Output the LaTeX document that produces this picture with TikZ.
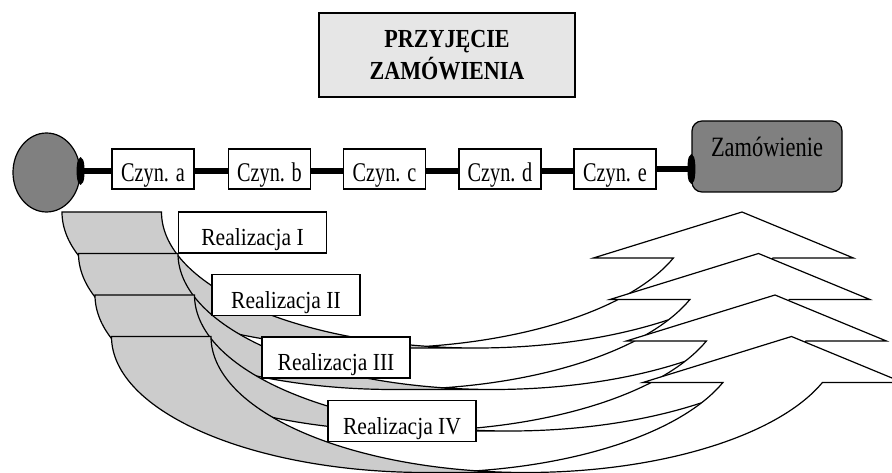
\documentclass[tikz,border=0pt]{standalone}
\usepackage{fontspec}
\setmainfont{Liberation Serif}
\usepackage{graphicx}
\usetikzlibrary{arrows.meta,shapes.geometric}
\definecolor{backgray}{HTML}{CCCCCC}
\definecolor{midgray}{HTML}{808080}
\definecolor{titlegray}{HTML}{E6E6E6}
\newcommand\hsq[2]{\scalebox{#1}[1]{#2}}
\newcommand\crvarrow[2]{%
 \begin{scope}[shift={(#1,#2)}]
  \fill[white] (680,0) -- (791.4,46) -- (710.9,46)
     arc[start angle=19.77,end angle=99.09,x radius=315,y radius=136]
     arc[start angle=80.91,end angle=19.77,x radius=315,y radius=136]
     -- (531.4,46) -- cycle;
  \fill[backgray] (315,136) arc[start angle=90,end angle=180,x radius=315,y radius=136]
     -- (99.5,0) arc[start angle=180,end angle=90,x radius=315,y radius=136] -- cycle;
  \draw[arrline] (364.75,134.3) arc[start angle=80.91,end angle=19.77,x radius=315,y radius=136]
     -- (531.4,46) -- (680,0) -- (791.4,46) -- (710.9,46)
     arc[start angle=19.77,end angle=90,x radius=315,y radius=136]
     -- (315,136) arc[start angle=90,end angle=180,x radius=315,y radius=136]
     -- (99.5,0) arc[start angle=180,end angle=90,x radius=315,y radius=136];
 \end{scope}}
\tikzset{
 arrline/.style={line width=1.2pt, line join=miter},
 czyn/.style={draw, fill=white, line width=1.2pt, minimum width=82pt, minimum height=40pt,
   inner sep=0pt, text height=27pt, text depth=2.4pt, font=\fontsize{27}{27}\selectfont},
 real/.style={draw, fill=white, line width=1.2pt, minimum width=148pt, minimum height=41pt,
   inner sep=0pt, text height=28.5pt, text depth=2.4pt, font=\fontsize{24.5}{24.5}\selectfont},
 conn/.style={line width=6pt, black},
}
\begin{document}
\begin{tikzpicture}[x=1pt,y=-1pt]
\useasboundingbox (0,0) rectangle (892,473);
\fill[white] (0,0) rectangle (892,473);
\clip (0,0) rectangle (892,473);

% title
\node[draw, fill=titlegray, line width=1.5pt, minimum width=256pt, minimum height=84pt,
  inner sep=0pt, align=center, font=\bfseries\fontsize{26}{32}\selectfont]
  (title) at (447,55) {\hsq{0.85}{PRZYJĘCIE}\\\hsq{0.85}{ZAMÓWIENIA}};

% process chain
\node[ellipse, draw, fill=midgray, line width=1.2pt, minimum width=67pt, minimum height=79pt,
  inner sep=0pt] (c0) at (46.5,172.5) {};
\node[czyn] (ca) at (153,169) {\hsq{0.75}{Czyn. a}};
\node[czyn] (cb) at (269.5,169) {\hsq{0.75}{Czyn. b}};
\node[czyn] (cc) at (384.5,169) {\hsq{0.75}{Czyn. c}};
\node[czyn] (cd) at (500,169) {\hsq{0.75}{Czyn. d}};
\node[czyn] (ce) at (615,169) {\hsq{0.75}{Czyn. e}};
\node[draw, fill=midgray, line width=1.2pt, rounded corners=10pt, minimum width=150pt,
  minimum height=71pt, inner sep=0pt, text height=20pt, text depth=20pt,
  font=\fontsize{28}{28}\selectfont] (zam) at (767,156.5) {\hsq{0.8}{Zamówienie}};

\draw[conn, {Ellipse[length=8pt,width=26pt]}-, shorten <=-4pt]
  ([yshift=-2pt]ca.west -| c0.east) -- ([yshift=-2pt]ca.west);
\draw[conn] ([yshift=-2pt]ca.east) -- ([yshift=-2pt]cb.west);
\draw[conn] ([yshift=-2pt]cb.east) -- ([yshift=-2pt]cc.west);
\draw[conn] ([yshift=-2pt]cc.east) -- ([yshift=-2pt]cd.west);
\draw[conn] ([yshift=-2pt]cd.east) -- ([yshift=-2pt]ce.west);
\draw[conn, -{Ellipse[length=8pt,width=28pt]}, shorten >=-4pt]
  (ce.east) -- (ce.east -| zam.west);

% curved arrows
\crvarrow{62}{212}
\crvarrow{78.5}{253.5}
\crvarrow{95}{295}
\crvarrow{111.5}{336.5}

% realization labels
\node[real] (r1) at (252.5,232.5) {\hsq{0.88}{Realizacja I}};
\node[real] (r2) at (286,295) {\hsq{0.88}{Realizacja II}};
\node[real] (r3) at (336,357.5) {\hsq{0.88}{Realizacja III}};
\node[real] (r4) at (402,421) {\hsq{0.88}{Realizacja IV}};
\end{tikzpicture}
\end{document}
